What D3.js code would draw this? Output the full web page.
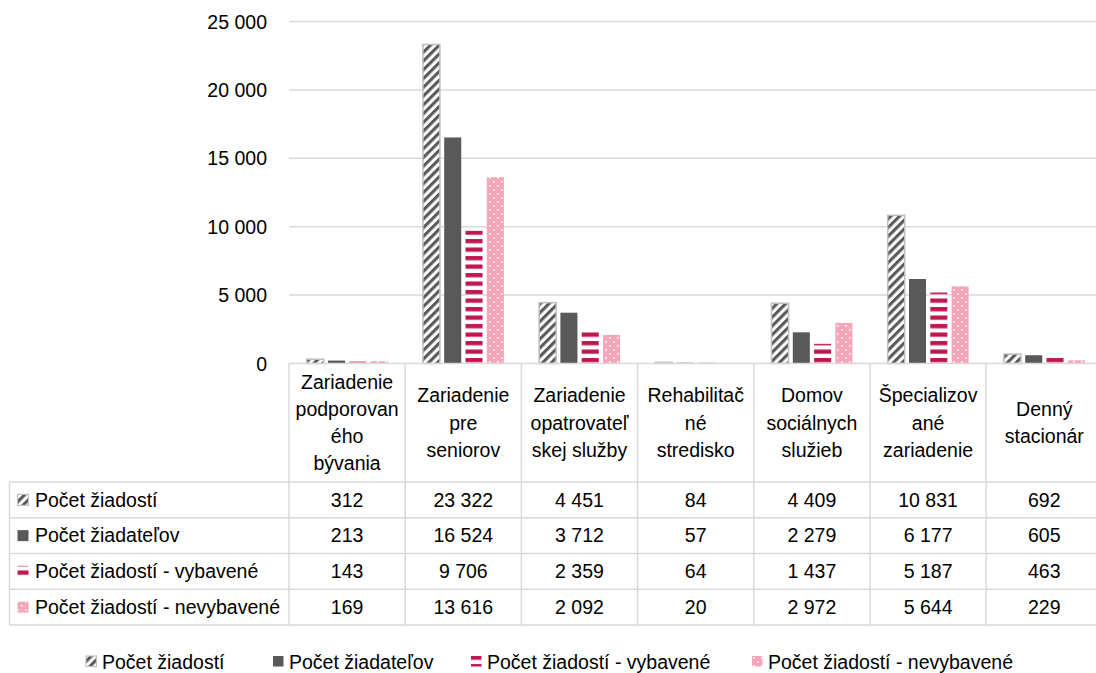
<!DOCTYPE html>
<html><head><meta charset="utf-8">
<script src="https://cdn.jsdelivr.net/npm/d3@7"></script>
<style>
body{margin:0;background:#fff}
text{font-family:"Liberation Sans",Arial,sans-serif;font-size:19.5px;fill:#000}
</style>
</head><body><svg id="c" width="1096" height="673"></svg>
<script>
const categories = ["Zariadenie podporovaného bývania","Zariadenie pre seniorov","Zariadenie opatrovateľskej služby","Rehabilitačné stredisko","Domov sociálnych služieb","Špecializované zariadenie","Denný stacionár"];
const categoryLines = [["Zariadenie","podporovan","ého","bývania"],["Zariadenie","pre","seniorov"],["Zariadenie","opatrovateľ","skej služby"],["Rehabilitač","né","stredisko"],["Domov","sociálnych","služieb"],["Špecializov","ané","zariadenie"],["Denný","stacionár"]];
const seriesNames = ["Počet žiadostí","Počet žiadateľov","Počet žiadostí - vybavené","Počet žiadostí - nevybavené"];
const ziadosti   = [312,23322,4451,84,4409,10831,692];
const ziadatelia = [213,16524,3712,57,2279,6177,605];
const vybavene   = [143,9706,2359,64,1437,5187,463];
const nevybavene = [169,13616,2092,20,2972,5644,229];
const yTicks = [0,5000,10000,15000,20000,25000];

const seriesValues = [ziadosti, ziadatelia, vybavene, nevybavene];
const loc = d3.formatLocale({decimal:",", thousands:"\u00a0", grouping:[3], currency:["",""]});
const fmt = loc.format(",d");

const svg = d3.select("#c");
const defs = svg.append("defs");
// pattern 1: white with dark diagonal stripes
const p1 = defs.append("pattern").attr("id","p1").attr("patternUnits","userSpaceOnUse")
  .attr("width",6.2).attr("height",6.2).attr("patternTransform","rotate(45)");
p1.append("rect").attr("width",6.2).attr("height",6.2).attr("fill","#fff");
p1.append("rect").attr("width",3.1).attr("height",6.2).attr("fill","#595959");
// pattern 3: horizontal crimson stripes
const p3 = defs.append("pattern").attr("id","p3").attr("patternUnits","userSpaceOnUse")
  .attr("width",8).attr("height",8.5);
p3.append("rect").attr("width",8).attr("height",8.5).attr("fill","#fff");
p3.append("rect").attr("y",1).attr("width",8).attr("height",4.3).attr("fill","#BE1650");
// pattern 4: pink with white dots
const p4 = defs.append("pattern").attr("id","p4").attr("patternUnits","userSpaceOnUse")
  .attr("width",8).attr("height",8);
p4.append("rect").attr("width",8).attr("height",8).attr("fill","#F7A6BA");
p4.append("rect").attr("x",1).attr("y",1).attr("width",1.6).attr("height",1.6).attr("fill","#fff");
p4.append("rect").attr("x",5).attr("y",5).attr("width",1.6).attr("height",1.6).attr("fill","#fff");

const fills = ["url(#p1)","#595959","url(#p3)","url(#p4)"];
const strokes = ["#bfbfbf","none","none","none"];

const colW = 116.2, x0 = 289;
const x = d3.scaleBand().domain(categories).range([x0, x0 + colW*categories.length]).padding(0);
const xs = d3.scaleBand().domain(seriesNames).range([17.7, 98.64]).paddingInner(0.2).paddingOuter(0);
const y = d3.scaleLinear().domain([0,25000]).range([363.5,21.5]);
const grid = "#d9d9d9";

// gridlines
svg.append("g").selectAll("line").data(yTicks.filter(t=>t>0)).join("line")
  .attr("x1",x0).attr("x2",1096).attr("y1",d=>y(d)).attr("y2",d=>y(d))
  .attr("stroke",grid).attr("stroke-width",1.5);

// y axis labels
const yAxis = d3.axisLeft(y).tickValues(yTicks).tickFormat(fmt).tickSize(0).tickPadding(0);
const ga = svg.append("g").attr("transform","translate(267,0)").call(yAxis);
ga.select(".domain").remove();
ga.selectAll("text").attr("font-family",null).attr("font-size",null).attr("fill","#000").attr("dy","0.34em");

// bars
seriesNames.forEach((s,si)=>{
  svg.append("g").selectAll("rect").data(categories).join("rect")
    .attr("x",(c)=>x(c)+xs(s))
    .attr("width",xs.bandwidth())
    .attr("y",(c,i)=>y(seriesValues[si][i]))
    .attr("height",(c,i)=>y(0)-y(seriesValues[si][i]))
    .attr("fill",fills[si])
    .attr("stroke",strokes[si]).attr("stroke-width",1.5);
});

// table
const rowY0 = 482, rowH = 35.75, tableBottom = rowY0 + rowH*4;
const tg = svg.append("g");
tg.append("line").attr("x1",x0).attr("x2",1096).attr("y1",y(0)).attr("y2",y(0)).attr("stroke",grid).attr("stroke-width",1.5);
for(let r=0;r<=4;r++){
  tg.append("line").attr("x1",9.5).attr("x2",1096).attr("y1",rowY0+r*rowH).attr("y2",rowY0+r*rowH).attr("stroke",grid).attr("stroke-width",1.5);
}
tg.append("line").attr("x1",9.5).attr("x2",9.5).attr("y1",rowY0).attr("y2",tableBottom).attr("stroke",grid).attr("stroke-width",1.5);
tg.selectAll("line.v").data(categories).join("line").attr("class","v")
  .attr("x1",d=>x(d)).attr("x2",d=>x(d)).attr("y1",y(0)).attr("y2",tableBottom)
  .attr("stroke",grid).attr("stroke-width",1.5);

// category labels
const hc = (y(0)+rowY0)/2;
categories.forEach((c,i)=>{
  const lines = categoryLines[i];
  const t = tg.append("text").attr("text-anchor","middle");
  lines.forEach((ln,li)=>{
    t.append("tspan").attr("x",x(c)+x.bandwidth()/2)
      .attr("y",hc + (li-(lines.length-1)/2)*27.2 + 6.8).text(ln);
  });
});

// rows
seriesNames.forEach((s,si)=>{
  const cy = rowY0 + rowH*si + rowH/2;
  tg.append("rect").attr("x",17.5).attr("y",cy-5.5).attr("width",11).attr("height",11)
    .attr("fill",fills[si]).attr("stroke",strokes[si]).attr("stroke-width",1.2);
  tg.append("text").attr("x",35).attr("y",cy+6.8).text(s);
  tg.append("g").selectAll("text").data(categories).join("text")
    .attr("x",d=>x(d)+x.bandwidth()/2).attr("y",cy+6.8).attr("text-anchor","middle")
    .text((d,i)=>fmt(seriesValues[si][i]));
});

// legend
const legX = [86, 273, 471, 752];
const lg = svg.append("g");
seriesNames.forEach((s,si)=>{
  lg.append("rect").attr("x",legX[si]).attr("y",656).attr("width",10.5).attr("height",10.5)
    .attr("fill",fills[si]).attr("stroke",strokes[si]).attr("stroke-width",1.2);
  lg.append("text").attr("x",legX[si]+16).attr("y",668.5).text(s);
});
</script>
</body></html>
